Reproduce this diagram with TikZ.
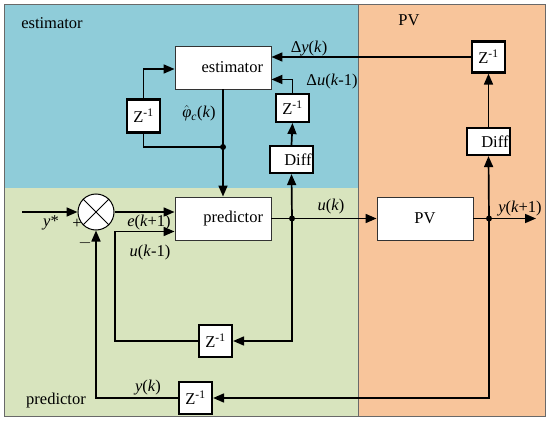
\documentclass[tikz,border=0pt]{standalone}
\usepackage{fontspec}
\setmainfont{Liberation Serif}
\usetikzlibrary{arrows.meta}
\definecolor{estblue}{RGB}{143,204,217}
\definecolor{predgreen}{RGB}{216,228,190}
\definecolor{pvorange}{RGB}{248,197,155}
\definecolor{framegray}{RGB}{105,105,105}

\begin{document}
\begin{tikzpicture}[x=1pt, y=-1pt, >={Triangle[length=11pt, width=9pt]}, every node/.style={font=\fontsize{16.5}{18}\selectfont}]
    \tikzstyle{block}=[draw=black!80, line width=0.9pt, fill=white, minimum width=96pt, minimum height=43pt, inner sep=0pt]
    \tikzstyle{delay}=[draw, line width=2.2pt, fill=white, minimum width=33pt, minimum height=31pt, inner sep=0pt]
    \tikzstyle{diffbox}=[draw, line width=2.2pt, fill=white, minimum width=43pt, minimum height=27pt, inner sep=0pt, text width=40pt, align=right]
    \tikzstyle{sig}=[line width=1.7pt]
    \tikzstyle{dot}=[fill, circle, inner sep=0pt, minimum size=6pt]

    \useasboundingbox (0,0) rectangle (550,423);

    % regions
    \fill[estblue] (4,4) rectangle (358,188);
    \fill[predgreen] (4,188) rectangle (358,416);
    \fill[pvorange] (358,4) rectangle (545,416);
    \draw[framegray, line width=0.8pt] (4,4) rectangle (545,416);
    \draw[framegray, line width=0.8pt] (358,4) -- (358,416);

    \node (lblest) at (52,23) {estimator};
    \node (lblpv) at (409,20) {PV};
    \node (lblpred) at (56,401) {predictor};

    % blocks
    \node[block, text width=80pt, align=right] (est) at (223,67.5) {estimator};
    \node[block, text width=80pt, align=right] (pred) at (223,218.5) {predictor};
    \node[block] (pv) at (425,218.5) {PV};
    \node[draw, line width=1pt, circle, fill=white, minimum size=36pt, inner sep=0pt] (sum) at (96,212) {};
    \draw[line width=1pt] (sum.north west) -- (sum.south east);
    \draw[line width=1pt] (sum.north east) -- (sum.south west);

    \node[delay, minimum height=33pt] (zphi) at (143.5,116) {Z\textsuperscript{-1}};
    \node[delay, minimum height=28pt] (zdu) at (292.5,108) {Z\textsuperscript{-1}};
    \node[diffbox] (diffu) at (291.5,159.5) {Diff};
    \node[delay] (zdy) at (488.5,57) {Z\textsuperscript{-1}};
    \node[diffbox] (diffy) at (488.5,141.5) {Diff};
    \node[delay, minimum height=32pt] (zu) at (215.5,341) {Z\textsuperscript{-1}};
    \node[delay, minimum height=32pt] (zy) at (195.5,398) {Z\textsuperscript{-1}};

    \coordinate (phiJ) at (223,147);
    \coordinate (uJ) at (292,218.5);
    \coordinate (yJ) at (489,218.5);
    \coordinate (ystar) at (22,212);
    \coordinate (yout) at (536,218.5);
    \coordinate (ucorner) at (115,0);

    % estimator loop
    \draw[sig, ->] (est.south) -- (pred.north);
    \draw[sig] (phiJ) -| (zphi.south);
    \draw[sig, ->] (zphi.north) |- ([yshift=-1.5pt]est.west);
    \draw[sig, ->] (zdy.west) -- (zdy.west -| est.east);
    \draw[sig, ->] (zdu.north) |- ([yshift=10pt]est.south east);
    \draw[sig, ->] (diffu.north) -- (zdu.south);
    \draw[sig, ->] (uJ) -- (diffu.south);

    % predictor loop
    \draw[sig, ->] (ystar) -- (sum.west);
    \draw[sig, ->] (sum.east) -- (sum.east -| pred.west);
    \draw[sig, ->] (pred.east) -- (pv.west);
    \draw[sig, ->] (uJ) |- (zu.east);
    \draw[sig, ->] (zu.west) -- (zu.west -| ucorner) |- ([yshift=-13pt]pred.west);
    \draw[sig, ->] (pv.east) -- (yout);
    \draw[sig, ->] (yJ) -- (diffy.south);
    \draw[sig, ->] (diffy.north) -- (zdy.south);
    \draw[sig, ->] (yJ) |- (zy.east);
    \draw[sig, ->] (zy.west) -| (sum.south);

    \node[dot] (dphi) at (phiJ) {};
    \node[dot] (du) at (uJ) {};
    \node[dot] (dy) at (yJ) {};

    % signal labels
    \node (ldy) at (309,49) {Δ\textit{y}(\textit{k})};
    \node (ldu) at (332,82) {Δ\textit{u}(\textit{k}-1)};
    \node (lphi) at (199,113) {$\hat{\mbox{\itshape φ}}$\textsubscript{\textit{c}}(\textit{k})};
    \node (lystar) at (51,223) {\textit{y}*};
    \node (lplus) at (77,224) {+};
    \node (lminus) at (85,243) {$-$};
    \node (lek) at (149,223) {\textit{e}(\textit{k}+1)};
    \node (luk1) at (150,253) {\textit{u}(\textit{k}-1)};
    \node (luk) at (331,207) {\textit{u}(\textit{k})};
    \node (lyk1) at (520,209) {\textit{y}(\textit{k}+1)};
    \node (lyk) at (148,388) {\textit{y}(\textit{k})};
\end{tikzpicture}
\end{document}
